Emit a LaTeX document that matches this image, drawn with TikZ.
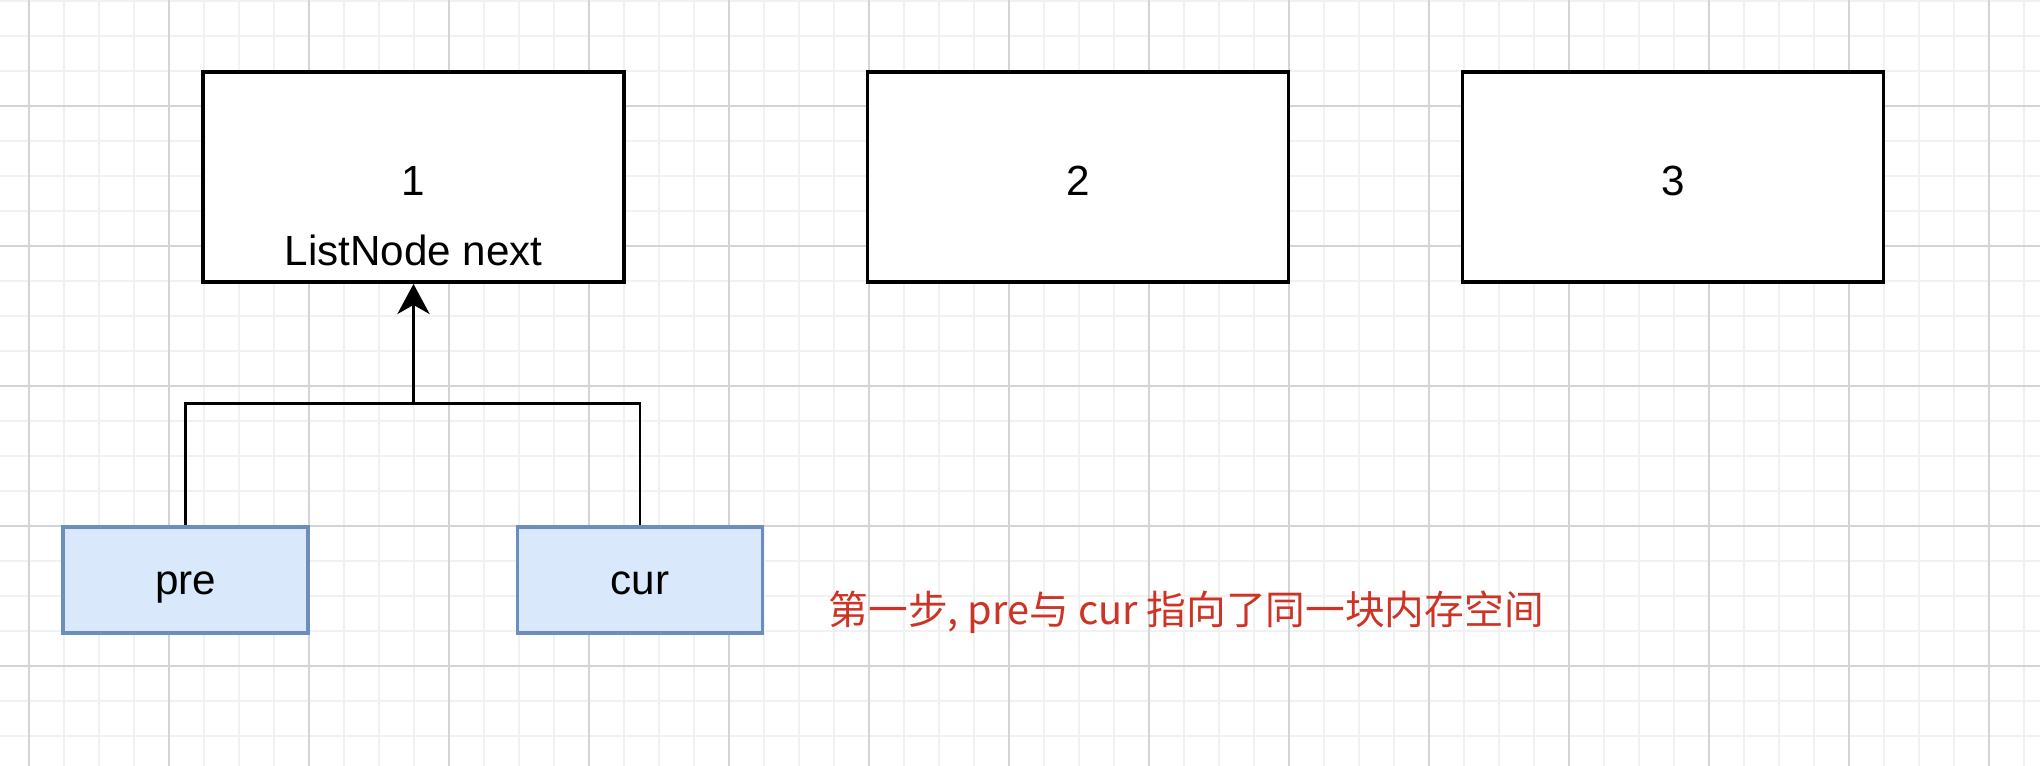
\documentclass[tikz,border=0pt]{standalone}
\usepackage{fontspec}
\setmainfont{Liberation Sans}
\newfontfamily\cjk{Noto Sans CJK SC}
\usetikzlibrary{positioning,arrows.meta}

\definecolor{bluefill}{HTML}{DAE8FC}
\definecolor{blueline}{HTML}{6C8EBF}
\definecolor{notered}{RGB}{205,52,38}
\definecolor{majorgrid}{HTML}{D4D4D4}
\definecolor{minorgrid}{HTML}{F1F1F1}

\tikzset{
  listbox/.style={draw=black, line width=1.1pt, fill=white, minimum width=4.21cm, minimum height=2.10cm, text height=0.40cm, text depth=0.02cm, font=\fontsize{12pt}{14pt}\selectfont},
  ptrbox/.style={draw=blueline, line width=1pt, fill=bluefill, minimum width=2.45cm, minimum height=1.06cm, text height=0.36cm, text depth=0.06cm, font=\fontsize{12pt}{14pt}\selectfont},
  ptrline/.style={draw=black, line width=0.85pt},
  note/.style={text=notered, inner sep=0pt, anchor=west, font=\cjk\fontsize{11.3pt}{14pt}\selectfont},
}

\begin{document}
\begin{tikzpicture}
  \useasboundingbox (0,0) rectangle (20.40,7.66);
  \fill[white] (0,0) rectangle (20.40,7.66);

  % Grid
  \foreach \k in {1,...,58}
    \draw[minorgrid, line width=0.4pt] (-0.06+0.35*\k,0) -- (-0.06+0.35*\k,7.66);
  \foreach \k in {0,...,21}
    \draw[minorgrid, line width=0.4pt] (0,7.65-0.35*\k) -- (20.40,7.65-0.35*\k);
  \foreach \k in {0,...,14}
    \draw[majorgrid, line width=0.4pt] (0.29+1.4*\k,0) -- (0.29+1.4*\k,7.66);
  \foreach \k in {0,...,4}
    \draw[majorgrid, line width=0.4pt] (0,6.60-1.4*\k) -- (20.40,6.60-1.4*\k);

  % List nodes
  \node[listbox] (n1) at (4.135,5.89) {1};
  \node (next1) at ([yshift=-0.73cm]n1.center) {\fontsize{12pt}{14pt}\selectfont ListNode next};
  \node[listbox] (n2) at (10.78,5.89) {2};
  \node[listbox] (n3) at (16.73,5.89) {3};

  % Pointers
  \node[ptrbox] (pre) at (1.855,1.86) {pre};
  \node[ptrbox] (cur) at (6.40,1.86) {cur};

  % Both point to node 1
  \coordinate (join) at (4.135,3.62);
  \draw[ptrline] (pre.north) |- (join);
  \draw[ptrline] (cur.north) |- (join);
  \draw[ptrline, line width=1.1pt, -{Stealth[length=0.30cm, width=0.32cm, inset=0.09cm]}] (join) -- (n1.south);

  % Note
  \node[note] (note) at (8.28,1.54) {第一步, pre与 cur 指向了同一块内存空间};
\end{tikzpicture}
\end{document}
